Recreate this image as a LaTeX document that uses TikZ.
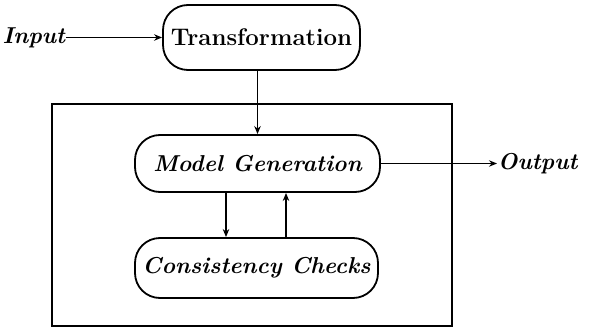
\documentclass[tikz,border=0pt]{standalone}
\usetikzlibrary{arrows.meta}
\begin{document}
\begin{tikzpicture}[x=0.5pt,y=-0.5pt,
  line width=0.9pt,
  tip/.style={-{Stealth[length=4pt,width=3.2pt]}},
  procbox/.style={draw,rounded corners=12.5pt,inner sep=0pt,
    font=\fontsize{11.5}{13}\selectfont\bfseries\itshape},
  lbl/.style={inner sep=0pt,font=\fontsize{11.5}{13}\selectfont\bfseries\itshape}]
\useasboundingbox (0,0) rectangle (598,331);
% outer system frame
\draw (52,104) rectangle (452,326);
% processing stages
\node[procbox,minimum width=98.5pt,minimum height=32.5pt,font=\fontsize{12}{14}\selectfont\bfseries]
  (trans) at (261.5,37.5) {Transformation};
\node[procbox,minimum width=122.5pt,minimum height=28.5pt] (mg) at (257.5,163.5) {Model Generation};
\node[procbox,minimum width=121.5pt,minimum height=30pt] (cc) at (256.5,268) {Consistency Checks};
% external labels
\node[lbl,anchor=east] (in) at (66,38) {Input};
\node[lbl,anchor=west] (out) at (497,163.5) {Output};
% connectors
\draw[tip] (in.east |- trans.west) -- (trans.west);
\draw[tip] (mg.north |- trans.south) -- (mg.north);
\draw[tip] (mg.east) -- (out.west);
\draw[tip] ([xshift=-15.75pt]mg.south) -- ([xshift=-15.25pt]cc.north);
\draw[tip] ([xshift=14.75pt]cc.north) -- ([xshift=14.75pt]cc.north |- mg.south);
\end{tikzpicture}
\end{document}
